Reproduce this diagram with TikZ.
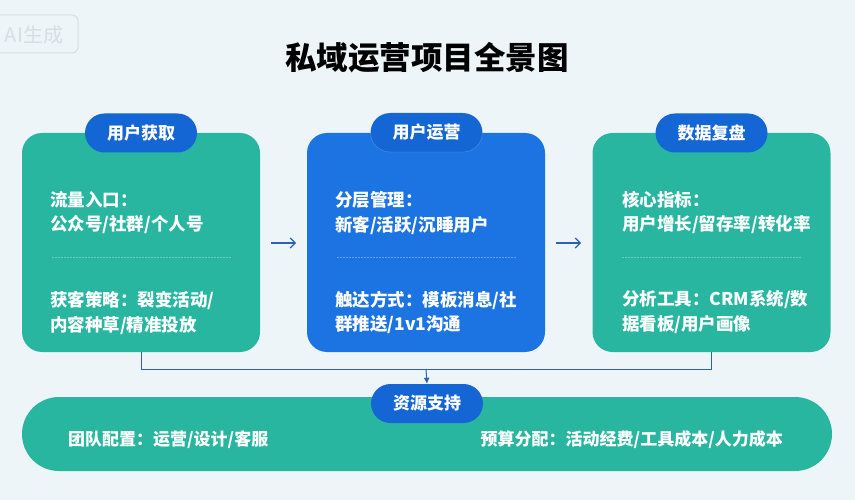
\documentclass[tikz,border=0pt]{standalone}
\usepackage{fontspec}
\setmainfont{Noto Sans CJK SC}
\usetikzlibrary{arrows.meta}
\definecolor{bgc}{HTML}{EEF5F9}
\definecolor{tealc}{HTML}{28B6A0}
\definecolor{bluebox}{HTML}{1C74E3}
\definecolor{tabblue}{HTML}{1466D5}
\definecolor{arrc}{HTML}{2A62B8}
\definecolor{wmark}{HTML}{D6DEE4}
\tikzset{
  card/.style={rounded corners=20pt, minimum width=238pt, minimum height=219pt, inner sep=0pt},
  tabpill/.style={fill=tabblue, rounded corners=19.5pt, minimum width=112pt, minimum height=39pt, inner sep=0pt,
    text=white, font=\bfseries\fontsize{17}{20}\selectfont},
  body/.style={anchor=west, text=white, inner sep=0pt, font=\bfseries\fontsize{17.5}{20}\selectfont},
  sep/.style={draw=white, opacity=0.3, dash pattern=on 1.5pt off 1.5pt, line width=0.8pt},
  flow/.style={draw=arrc, line width=1.2pt, -{Straight Barb[length=5pt,width=10pt]}},
  link/.style={draw=arrc, line width=1pt}
}
\begin{document}
\begin{tikzpicture}[x=1pt,y=-1pt]
\fill[bgc] (0,0) rectangle (855,500);
\useasboundingbox (0,0) rectangle (855,500);
% watermark
\node[draw=wmark, line width=1pt, rounded corners=6pt, minimum width=90pt, minimum height=38pt] (wmbox) at (33,34) {};
\node[text=wmark, font=\fontsize{20}{22}\selectfont, inner sep=0pt] (wm) at (34,35) {AI生成};
% title
\node[font=\bfseries\fontsize{31.5}{34}\selectfont, text=black] (title) at (427,58) {私域运营项目全景图};
% cards
\node[card, fill=tealc] (c1) at (141,242.5) {};
\node[card, fill=bluebox] (c2) at (426,242.5) {};
\node[card, fill=tealc] (c3) at (711.5,242.5) {};
% tabs
\node[tabpill] (t1) at (141,133) {用户获取};
\node[tabpill, draw=white, draw opacity=0.25] (t2) at (426.5,132.5) {用户运营};
\node[tabpill] (t3) at (711.5,133) {数据复盘};
% card 1 text
\node[body] (a1) at (50,200) {流量入口：};
\node[body] (a2) at (50,225) {公众号/社群/个人号};
\node[body] (a3) at (50,300) {获客策略：裂变活动/};
\node[body] (a4) at (50,325) {内容种草/精准投放};
% card 2 text
\node[body] (b1) at (335,200) {分层管理：};
\node[body] (b2) at (335,225) {新客/活跃/沉睡用户};
\node[body] (b3) at (335,300) {触达方式：模板消息/社};
\node[body] (b4) at (335,325) {群推送/1v1沟通};
% card 3 text
\node[body] (d1) at (622,200) {核心指标：};
\node[body] (d2) at (622,225) {用户增长/留存率/转化率};
\node[body] (d3) at (622,300) {分析工具：CRM系统/数};
\node[body] (d4) at (622,325) {据看板/用户画像};
% separators
\coordinate (s1a) at (52,257); \coordinate (s1b) at (232,257);
\coordinate (s2a) at (337,257); \coordinate (s2b) at (517,257);
\coordinate (s3a) at (622,257); \coordinate (s3b) at (802,257);
\draw[sep] (s1a) -- (s1b);
\draw[sep] (s2a) -- (s2b);
\draw[sep] (s3a) -- (s3b);
% flow arrows
\coordinate (f1a) at (271,243); \coordinate (f1b) at (296,243);
\coordinate (f2a) at (556,243); \coordinate (f2b) at (581,243);
\draw[flow] (f1a) -- (f1b);
\draw[flow] (f2a) -- (f2b);
% bottom bar
\node[fill=tealc, rounded corners=37pt, minimum width=810pt, minimum height=74pt, inner sep=0pt] (bar) at (427,434) {};
\node[tabpill] (t4) at (427,403.5) {资源支持};
\node[body, font=\bfseries\fontsize{17}{20}\selectfont] (e1) at (68,440) {团队配置：运营/设计/客服};
\node[body, font=\bfseries\fontsize{17}{20}\selectfont, anchor=east] (e2) at (783,440) {预算分配：活动经费/工具成本/人力成本};
% connector
\coordinate (j) at (426,369);
\draw[link] (c1.south) -- (c1.south |- j) -- (c3.south |- j) -- (c3.south);
\draw[link, -{Latex[length=6pt,width=6pt]}] (j) -- (t4.north);
\end{tikzpicture}
\end{document}
